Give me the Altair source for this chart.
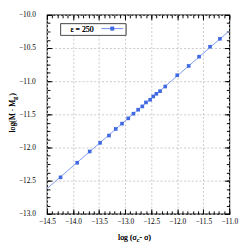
import altair as alt
import pandas as pd

# data
pt_x = [-14.24, -13.92, -13.68, -13.48, -13.31, -13.18, -13.06, -12.94, -12.84, -12.75,
        -12.67, -12.60, -12.52, -12.46, -12.40, -12.33, -12.23, -12.00, -11.78, -11.58,
        -11.37, -11.18]
pt_y = [-12.45, -12.23, -12.06, -11.93, -11.82, -11.72, -11.64, -11.56, -11.49, -11.43,
        -11.38, -11.32, -11.28, -11.23, -11.19, -11.15, -11.08, -10.91, -10.77, -10.63,
        -10.48, -10.36]
fit_x = [-14.5, -11.0]
fit_y = [-12.62, -10.24]
x_major = [-14.5, -14.0, -13.5, -13.0, -12.5, -12.0, -11.5, -11.0]
y_major = [-13.0, -12.5, -12.0, -11.5, -11.0, -10.5, -10.0]
x_minor = [round(-14.5 + 0.1 * i, 2) for i in range(36)]
y_minor = [round(-13.0 + 0.125 * i, 3) for i in range(25)]
legend_label = "ε = 250"
x_title = ["log (σ", "c", " - σ)"]
y_title = ["log(M · M", "g", ")"]

FONT = "Liberation Serif"
W, H = 187, 204
XD, YD = [-14.5, -11.0], [-13.0, -10.0]
LINE_C, PT_C = "#7b9cf2", "#4169e1"

pts = pd.DataFrame({"x": pt_x, "y": pt_y})
fit = pd.DataFrame({"x": fit_x, "y": fit_y})

xs = alt.Scale(domain=XD, nice=False, zero=False)
ys = alt.Scale(domain=YD, nice=False, zero=False)

# main layer: line + labels + grid
line = alt.Chart(fit).mark_line(color=LINE_C, strokeWidth=1).encode(
    x=alt.X("x:Q", scale=xs, title=None,
            axis=alt.Axis(values=x_major, format=".1f", grid=True, gridDash=[2, 2],
                          gridColor="#c8c8c8", ticks=False, domain=False,
                          labelFont=FONT, labelFontSize=7.5, labelColor="#000",
                          labelFontWeight="normal",
                          labelPadding=4, labelOverlap=False, labelFlush=False)),
    y=alt.Y("y:Q", scale=ys, title=None,
            axis=alt.Axis(values=y_major, format=".1f", grid=True, gridDash=[2, 2],
                          gridColor="#c8c8c8", ticks=False, domain=False,
                          labelFont=FONT, labelFontSize=7.5, labelColor="#000",
                          labelFontWeight="normal",
                          labelPadding=12, labelOverlap=False, labelFlush=False)),
)

def tick_layer(orient_x, orient_y, xv, yv, size):
    return alt.Chart(fit).mark_line(opacity=0).encode(
        x=alt.X("x:Q", scale=xs, title=None,
                axis=alt.Axis(orient=orient_x, values=xv, labels=False, grid=False,
                              domain=False, tickSize=size, offset=-size,
                              tickColor="#000", tickWidth=1)),
        y=alt.Y("y:Q", scale=ys, title=None,
                axis=alt.Axis(orient=orient_y, values=yv, labels=False, grid=False,
                              domain=False, tickSize=size, offset=-size,
                              tickColor="#000", tickWidth=1)),
    )

t1 = tick_layer("bottom", "left", x_major, y_major, 5)
t2 = tick_layer("top", "right", x_major, y_major, 5)
t3 = tick_layer("bottom", "left", x_minor, y_minor, 3)
t4 = tick_layer("top", "right", x_minor, y_minor, 3)

points = alt.Chart(pts).mark_point(filled=True, shape="square", size=14,
                                   color=PT_C, opacity=1).encode(
    x=alt.X("x:Q", scale=xs, axis=None),
    y=alt.Y("y:Q", scale=ys, axis=None),
)

# legend
leg_box = alt.Chart(fit).mark_rect(fill="white", stroke="#555", strokeWidth=1).encode(
    x=alt.value(14), x2=alt.value(81), y=alt.value(9), y2=alt.value(21))
leg_text = alt.Chart(fit).mark_text(font=FONT, fontSize=8, align="left", fontWeight="normal",
                                    baseline="middle", color="#000").encode(
    x=alt.value(24), y=alt.value(16), text=alt.value(legend_label))
leg_line = alt.Chart(fit).mark_rule(color=LINE_C, strokeWidth=1).encode(
    x=alt.value(56), x2=alt.value(78), y=alt.value(14))
leg_pt = alt.Chart(fit).mark_point(filled=True, shape="square", size=14,
                                   color=PT_C, opacity=1).encode(
    x=alt.value(67), y=alt.value(14))

# axis titles with subscripts
def txt(s, x, y, align, size=8, angle=0, dy=0):
    kw = dict(font=FONT, fontSize=size, align=align, baseline="alphabetic",
              color="#000", dy=dy, fontWeight="normal")
    if angle:
        kw["angle"] = angle
    return alt.Chart(fit).mark_text(**kw).encode(
        x=alt.value(x), y=alt.value(y), text=alt.value(s))

XT_X, XT_Y = 92, H + 27
xt = [txt(x_title[0], XT_X, XT_Y, "right"),
      txt(x_title[1], XT_X, XT_Y, "left", size=6, dy=2),
      txt(x_title[2], XT_X + 3, XT_Y, "left")]
YT_X, YT_Y = -33, 87
yt = [txt(y_title[0], YT_X, YT_Y, "right", angle=270),
      txt(y_title[1], YT_X + 2, YT_Y, "left", size=6, angle=270),
      txt(y_title[2], YT_X, YT_Y - 4, "left", angle=270)]

chart = alt.layer(line, t1, t2, t3, t4, points, leg_box, leg_line, leg_pt, leg_text,
                  *xt, *yt).resolve_axis(
    x="independent", y="independent"
).properties(
    width=W, height=H,
    autosize=alt.AutoSizeParams(type="none"),
    padding={"top": 4, "left": 40, "right": 12, "bottom": 32},
).configure_view(stroke="#000", strokeWidth=1.2)

chart.save("out.html", embed_options={"renderer": "svg", "actions": False})
